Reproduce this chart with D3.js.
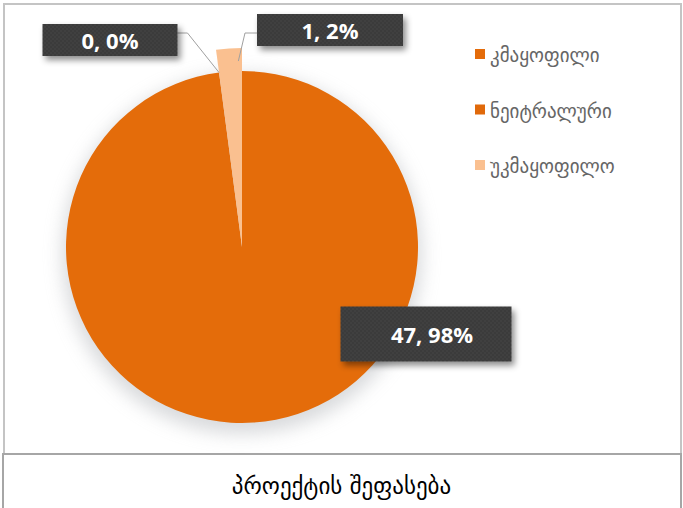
<!DOCTYPE html>
<html>

<head>
    <script src="https://d3js.org/d3.v7.min.js"></script>
    <title>პროექტის შეფასება</title>
    <meta charset="UTF-8">
    <style type="text/css">
        body { margin: 0; background: #fff; }
    </style>
</head>

<body>
    <script type="text/javascript">
        // chart data
        var categories = ["კმაყოფილი", "ნეიტრალური", "უკმაყოფილო"];
        var values = [47, 0, 1];
        var colors = ["#E46C0A", "#E0690A", "#FAC090"];
        var chartTitle = "პროექტის შეფასება";

        var width = 683, height = 508;
        var frameBottom = 454;

        // pie geometry
        var cx = 242, cy = 247, radius = 176;
        var explodeExtra = [0, 0, 23];

        // label layout (offset of box centre from pie centre, box size, leader knee dy)
        var labelOffsets = [[184, 87], [-132, -207], [88, -217]];
        var labelSizes = [[171, 55], [135, 32], [146, 32]];
        var leaderDy = [0, -7, 3];

        var total = d3.sum(values);

        var svg = d3.select("body")
            .append("svg")
            .attr("width", width)
            .attr("height", height);

        var defs = svg.append("defs");

        // soft shadow round the pie
        var pieShadow = defs.append("filter")
            .attr("id", "pieShadow")
            .attr("x", "-30%").attr("y", "-30%")
            .attr("width", "160%").attr("height", "160%");
        pieShadow.append("feGaussianBlur").attr("stdDeviation", 9);

        // drop shadow for label boxes
        var boxShadow = defs.append("filter")
            .attr("id", "boxShadow")
            .attr("x", "-20%").attr("y", "-30%")
            .attr("width", "150%").attr("height", "190%");
        boxShadow.append("feDropShadow")
            .attr("dx", 3).attr("dy", 4)
            .attr("stdDeviation", 3)
            .attr("flood-color", "#000")
            .attr("flood-opacity", 0.45);

        // dotted texture of the label boxes
        var pattern = defs.append("pattern")
            .attr("id", "dots")
            .attr("width", 4).attr("height", 4)
            .attr("patternUnits", "userSpaceOnUse");
        pattern.append("rect").attr("width", 4).attr("height", 4).attr("fill", "#3a3a3a");
        pattern.append("circle").attr("cx", 1).attr("cy", 1).attr("r", 0.8).attr("fill", "#4a4a4a");
        pattern.append("circle").attr("cx", 3).attr("cy", 3).attr("r", 0.8).attr("fill", "#444");

        // frame of the chart area
        svg.append("rect")
            .attr("x", 4).attr("y", 4)
            .attr("width", width - 6).attr("height", frameBottom - 4)
            .attr("fill", "#fff")
            .attr("stroke", "#c4c4c4")
            .attr("stroke-width", 2);

        // title box
        svg.append("rect")
            .attr("x", 3).attr("y", frameBottom)
            .attr("width", width - 5).attr("height", height - frameBottom + 4)
            .attr("fill", "#fff")
            .attr("stroke", "#a6a6a6")
            .attr("stroke-width", 2);

        svg.append("text")
            .attr("x", width / 2)
            .attr("y", 487)
            .attr("text-anchor", "middle")
            .attr("dominant-baseline", "middle")
            .style("font-family", "DejaVu Sans, sans-serif")
            .style("font-size", "23px")
            .attr("fill", "#000")
            .text(chartTitle);

        var pie = d3.pie().sort(null).value(function (d) { return d; });
        var arcsData = pie(values);

        var arc = d3.arc()
            .innerRadius(0)
            .outerRadius(function (d) { return radius + explodeExtra[d.index]; });

        var g = svg.append("g")
            .attr("transform", "translate(" + cx + "," + cy + ")");

        // shadow disc
        g.append("circle")
            .attr("cx", 0).attr("cy", 7)
            .attr("r", radius + 4)
            .attr("fill", "#b9bcc0")
            .attr("opacity", 0.55)
            .attr("filter", "url(#pieShadow)");

        g.selectAll("path.slice")
            .data(arcsData)
            .enter()
            .append("path")
            .attr("class", "slice")
            .attr("d", arc)
            .attr("fill", function (d) { return colors[d.index]; });

        // leader lines and labels
        function pointAt(angle, r) {
            return [Math.sin(angle) * r, -Math.cos(angle) * r];
        }

        arcsData.forEach(function (d) {
            var i = d.index;
            var bx = labelOffsets[i][0], by = labelOffsets[i][1];
            var bw = labelSizes[i][0], bh = labelSizes[i][1];

            if (i > 0) {
                // leader: from box side, short horizontal, then to the slice
                var angle = d.endAngle > d.startAngle ? d.endAngle - (d.endAngle - d.startAngle) * 0.15 : d.startAngle;
                var r = i === 2 ? radius + 10 : radius;
                var end = pointAt(angle, r);
                var side = bx < end[0] ? bx + bw / 2 : bx - bw / 2;
                var knee = bx < end[0] ? side + 10 : side - 12;
                var ky = by + leaderDy[i];
                g.append("polyline")
                    .attr("points", [[side, ky], [knee, ky], end].map(function (p) { return p.join(","); }).join(" "))
                    .attr("fill", "none")
                    .attr("stroke", "#a0a0a0")
                    .attr("stroke-width", 1);
            }

            var pct = Math.round(d.value / total * 100);
            var lbl = g.append("g")
                .attr("transform", "translate(" + bx + "," + by + ")");
            lbl.append("rect")
                .attr("x", -bw / 2).attr("y", -bh / 2)
                .attr("width", bw).attr("height", bh)
                .attr("fill", "url(#dots)")
                .attr("filter", "url(#boxShadow)");
            lbl.append("text")
                .attr("text-anchor", "middle")
                .attr("dominant-baseline", "central")
                .attr("x", i === 0 ? 6 : 0)
                .attr("y", 0)
                .style("font-family", "Open Sans, sans-serif")
                .style("font-weight", "bold")
                .style("font-size", "22px")
                .attr("fill", "#fff")
                .text(d.value + ", " + pct + "%");
        });

        // legend
        var legendY = d3.scalePoint()
            .domain(categories)
            .range([54, 165]);

        var legend = svg.append("g")
            .selectAll("g")
            .data(categories)
            .enter()
            .append("g")
            .attr("transform", function (d) { return "translate(475," + legendY(d) + ")"; });

        legend.append("rect")
            .attr("x", 0).attr("y", -5)
            .attr("width", 10).attr("height", 10)
            .attr("fill", function (d, i) { return colors[i]; });

        legend.append("text")
            .attr("x", 15)
            .attr("y", 1)
            .attr("dominant-baseline", "central")
            .style("font-family", "DejaVu Sans, sans-serif")
            .style("font-size", "19px")
            .attr("fill", "#666")
            .text(function (d) { return d; });
    </script>
</body>

</html>
